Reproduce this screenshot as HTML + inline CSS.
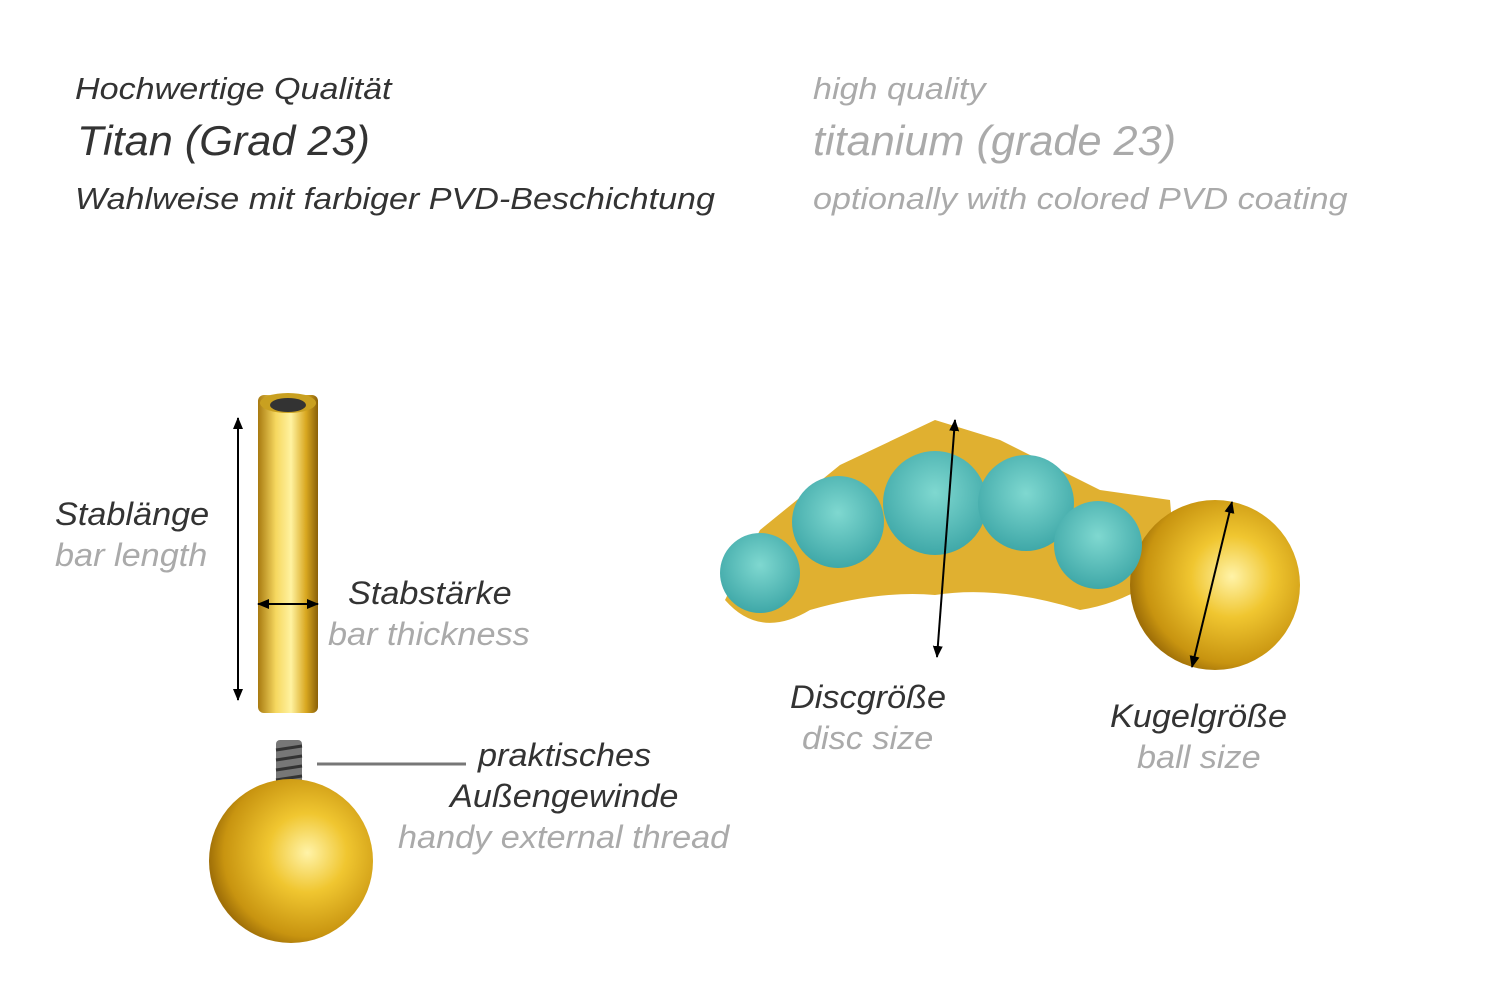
<!DOCTYPE html>
<html><head><meta charset="utf-8"><style>
body{margin:0;width:1500px;height:1001px;background:#fff;position:relative;overflow:hidden;font-family:"Liberation Sans",sans-serif;font-style:italic}
.t{position:absolute;white-space:nowrap;line-height:1;transform-origin:left top;transform:scaleX(1.07)}
.h{transform:scaleX(1.1)}
.d{color:#333}.g{color:#aaa}
</style></head><body>
<div class="t d h" style="left:75px;top:73px;font-size:31px">Hochwertige Qualität</div>
<div class="t d" style="left:77px;top:120px;font-size:42px;transform:scaleX(1.03)">Titan (Grad 23)</div>
<div class="t d h" style="left:75px;top:183px;font-size:31px">Wahlweise mit farbiger PVD-Beschichtung</div>
<div class="t g h" style="left:813px;top:73px;font-size:31px">high quality</div>
<div class="t g" style="left:813px;top:120px;font-size:42px;transform:scaleX(1.03)">titanium (grade 23)</div>
<div class="t g h" style="left:813px;top:183px;font-size:31px">optionally with colored PVD coating</div>

<div class="t d" style="left:55px;top:498px;font-size:32px">Stablänge</div>
<div class="t g" style="left:55px;top:539px;font-size:32px">bar length</div>
<div class="t d" style="left:348px;top:577px;font-size:32px">Stabstärke</div>
<div class="t g" style="left:328px;top:618px;font-size:32px">bar thickness</div>
<div class="t d" style="left:478px;top:739px;font-size:32px">praktisches</div>
<div class="t d" style="left:450px;top:780px;font-size:32px">Außengewinde</div>
<div class="t g" style="left:398px;top:821px;font-size:32px">handy external thread</div>
<div class="t d" style="left:790px;top:681px;font-size:32px">Discgröße</div>
<div class="t g" style="left:802px;top:722px;font-size:32px">disc size</div>
<div class="t d" style="left:1110px;top:700px;font-size:32px">Kugelgröße</div>
<div class="t g" style="left:1137px;top:741px;font-size:32px">ball size</div>

<svg width="1500" height="1001" style="position:absolute;left:0;top:0">
<defs>
<linearGradient id="bar" x1="0" x2="1"><stop offset="0" stop-color="#a87a10"/><stop offset=".3" stop-color="#f6d860"/><stop offset=".55" stop-color="#fff2a0"/><stop offset=".8" stop-color="#d9a820"/><stop offset="1" stop-color="#8a6008"/></linearGradient>
<radialGradient id="ball" cx=".6" cy=".45" r=".6"><stop offset="0" stop-color="#fff3a8"/><stop offset=".4" stop-color="#f0c630"/><stop offset=".85" stop-color="#c89410"/><stop offset="1" stop-color="#a07008"/></radialGradient>
<radialGradient id="st" cx=".5" cy=".4" r=".6"><stop offset="0" stop-color="#7fd8d0"/><stop offset="1" stop-color="#3fa8a8"/></radialGradient>
<marker id="a" markerWidth="6" markerHeight="6" refX="5.5" refY="3" orient="auto-start-reverse"><path d="M0,0.5 L6,3 L0,5.5z" fill="#000"/></marker>
</defs>
<rect x="258" y="395" width="60" height="318" rx="6" fill="url(#bar)"/>
<ellipse cx="288" cy="403" rx="28" ry="10" fill="#c9a020"/><ellipse cx="288" cy="405" rx="18" ry="7" fill="#333"/>
<line x1="238" y1="418" x2="238" y2="700" stroke="#000" stroke-width="2" marker-start="url(#a)" marker-end="url(#a)"/>
<line x1="258" y1="604" x2="318" y2="604" stroke="#000" stroke-width="2" marker-start="url(#a)" marker-end="url(#a)"/>
<rect x="276" y="740" width="26" height="60" rx="4" fill="#777"/>
<g stroke="#333" stroke-width="3"><line x1="276" y1="750" x2="302" y2="746"/><line x1="276" y1="760" x2="302" y2="756"/><line x1="276" y1="770" x2="302" y2="766"/><line x1="276" y1="780" x2="302" y2="776"/><line x1="276" y1="790" x2="302" y2="786"/></g>
<circle cx="291" cy="861" r="82" fill="url(#ball)"/>
<line x1="317" y1="764" x2="466" y2="764" stroke="#777" stroke-width="3"/>

<path d="M725,600 Q760,640 810,610 Q880,590 935,595 Q1000,585 1080,610 Q1140,600 1175,560 L1170,500 L1100,490 L1000,440 L935,420 L840,465 L760,530 Z" fill="#e0b030"/>
<rect x="1160" y="545" width="30" height="50" fill="#b88818"/>
<circle cx="1215" cy="585" r="85" fill="url(#ball)"/>
<circle cx="760" cy="573" r="40" fill="url(#st)"/>
<circle cx="838" cy="522" r="46" fill="url(#st)"/>
<circle cx="935" cy="503" r="52" fill="url(#st)"/>
<circle cx="1026" cy="503" r="48" fill="url(#st)"/>
<circle cx="1098" cy="545" r="44" fill="url(#st)"/>
<line x1="955" y1="420" x2="937" y2="657" stroke="#000" stroke-width="2" marker-start="url(#a)" marker-end="url(#a)"/>
<line x1="1232" y1="502" x2="1192" y2="667" stroke="#000" stroke-width="2" marker-start="url(#a)" marker-end="url(#a)"/>
</svg>
</body></html>
